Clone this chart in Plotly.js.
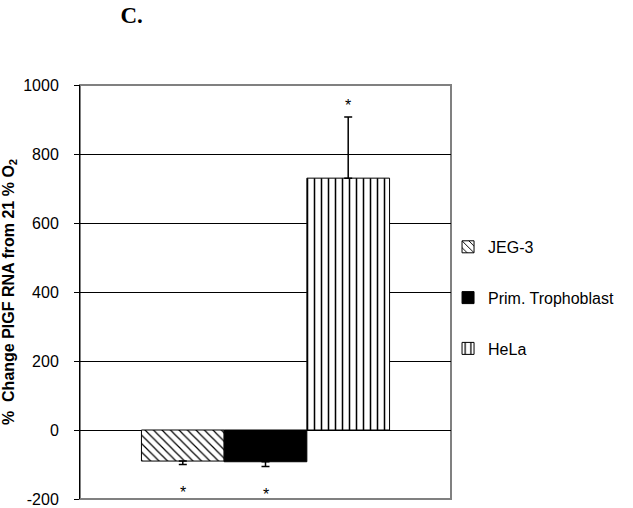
<!DOCTYPE html>
<html>
<head>
<meta charset="utf-8">
<script src="https://cdn.plot.ly/plotly-3.0.1.min.js"></script>
<style>
  body { margin: 0; background: #fff; }
  #graph { width: 633px; height: 508px; }
</style>
</head>
<body>
<div id="graph"></div>
<script>
'use strict';

// cell lines (in legend order)
var cellLines = ['JEG-3', 'Prim. Trophoblast', 'HeLa'];

// % change of PlGF RNA from 21% O2
var pctChange = [-90, -92, 730];

// error bars (only drawn away from zero)
var errUp = [0, 0, 177];
var errDown = [10, 14, 0];

// significance marks
var starText = ['*', '*', '*'];

var yTicks = [-200, 0, 200, 400, 600, 800, 1000];

var barStyles = [
    {color: 'white', pattern: {shape: '\\', fgcolor: 'black', bgcolor: 'white', size: 6, solidity: 0.2}},
    {color: 'black'},
    {color: 'white', pattern: {shape: '|', fgcolor: 'black', bgcolor: 'white', size: 7, solidity: 0.22}}
];

var data = cellLines.map(function (name, i) {
    var m = barStyles[i];
    m.line = {color: 'black', width: 1};
    return {
        type: 'bar',
        x: [name],
        y: [pctChange[i]],
        name: name,
        legendgroup: 'g' + i,
        marker: m,
        error_y: {
            type: 'data',
            symmetric: false,
            array: [errUp[i]],
            arrayminus: [errDown[i]],
            color: 'black',
            thickness: 1.5,
            width: 4
        },
        hoverinfo: 'none'
    };
});

// stars beyond the error bars
var stars = cellLines.map(function (name, i) {
    var up = pctChange[i] >= 0;
    return {
        x: name,
        y: up ? pctChange[i] + errUp[i] : pctChange[i] - errDown[i],
        text: starText[i],
        showarrow: false,
        yanchor: 'middle',
        yshift: up ? 12 : -28,
        font: {family: 'Liberation Sans, Arial, sans-serif', size: 16, color: 'black'}
    };
});

var layout = {
    width: 633,
    height: 508,
    margin: {l: 80, r: 182, t: 85, b: 9},
    paper_bgcolor: 'white',
    plot_bgcolor: 'white',
    font: {family: 'Liberation Sans, Arial, sans-serif', size: 16, color: 'black'},
    barmode: 'overlay',
    bargap: 0,
    showlegend: true,
    title: {
        text: '<b>C.</b>',
        font: {family: 'Liberation Serif, Times New Roman, serif', size: 23, color: 'black'},
        x: 69 / 633,
        xanchor: 'left',
        xref: 'paper',
        yref: 'container',
        y: 1 - 15 / 508,
        yanchor: 'middle'
    },
    xaxis: {
        type: 'category',
        range: [-1.243, 3.243],
        showticklabels: false,
        ticks: '',
        showgrid: false,
        zeroline: false,
        showline: false,
        fixedrange: true
    },
    yaxis: {
        range: [-200, 1000],
        tickvals: yTicks,
        ticktext: yTicks.map(String),
        ticks: 'outside',
        ticklen: 5,
        tickcolor: 'black',
        ticklabelstandoff: 12,
        ticklabeloverflow: 'allow',
        showline: true,
        linecolor: 'black',
        linewidth: 1,
        showgrid: true,
        gridcolor: 'black',
        gridwidth: 1,
        zeroline: true,
        zerolinecolor: 'black',
        zerolinewidth: 1,
        tickfont: {size: 16},
        title: {
            text: '<b>%&nbsp;&nbsp;Change PlGF RNA from 21 % O<sub>2</sub></b>',
            font: {size: 16},
            standoff: 4
        },
        fixedrange: true
    },
    legend: {
        x: 0.992,
        xanchor: 'left',
        y: 0.65,
        yanchor: 'top',
        traceorder: 'grouped',
        tracegroupgap: 27,
        font: {size: 16},
        bgcolor: 'rgba(0,0,0,0)'
    },
    shapes: [{
        type: 'rect',
        xref: 'paper', yref: 'paper',
        x0: 0, x1: 1, y0: 0, y1: 1,
        line: {color: '#808080', width: 2},
        layer: 'below'
    }],
    annotations: stars
};

Plotly.newPlot('graph', data, layout, {displayModeBar: false, staticPlot: true});
</script>
</body>
</html>
